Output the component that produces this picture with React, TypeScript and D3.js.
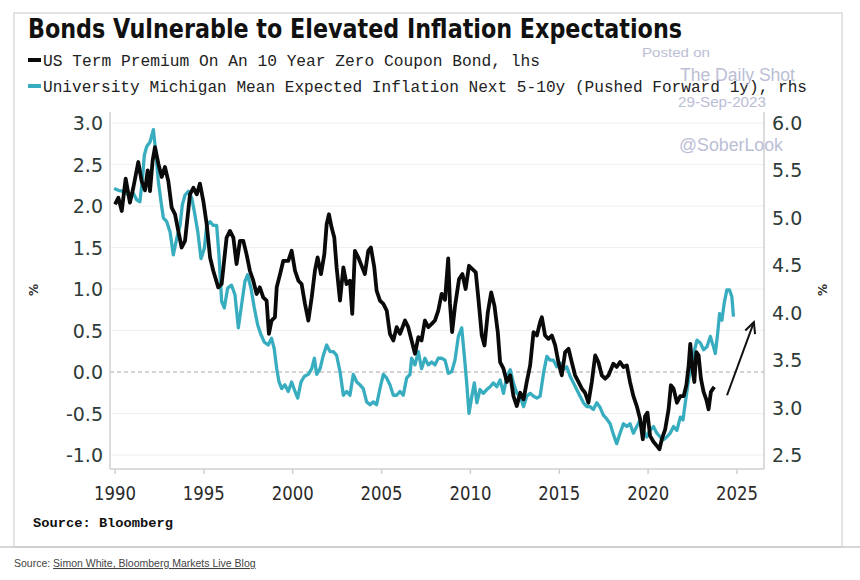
import React from "react";
import * as d3 from "d3";

const termDates = [1990.0,1990.19,1990.38,1990.6,1990.84,1991.03,1991.31,1991.5,1991.69,1991.84,1991.97,1992.12,1992.25,1992.44,1992.63,1992.81,1993.0,1993.19,1993.38,1993.56,1993.75,1993.94,1994.22,1994.41,1994.6,1994.78,1994.97,1995.16,1995.35,1995.53,1995.81,1996.0,1996.28,1996.47,1996.66,1996.84,1997.03,1997.22,1997.4,1997.59,1997.78,1997.97,1998.15,1998.34,1998.53,1998.66,1998.81,1999.0,1999.1,1999.29,1999.47,1999.75,1999.94,2000.13,2000.32,2000.5,2000.69,2000.88,2001.07,2001.25,2001.4,2001.59,2001.78,2001.91,2002.04,2002.19,2002.34,2002.47,2002.66,2002.85,2003.03,2003.22,2003.35,2003.5,2003.69,2003.91,2004.06,2004.25,2004.4,2004.59,2004.72,2004.91,2005.1,2005.29,2005.47,2005.66,2005.85,2006.04,2006.32,2006.5,2006.69,2006.88,2007.07,2007.25,2007.44,2007.63,2007.82,2008.0,2008.19,2008.38,2008.57,2008.75,2008.85,2008.97,2009.13,2009.36,2009.55,2009.73,2009.92,2010.11,2010.3,2010.45,2010.64,2010.79,2010.98,2011.17,2011.35,2011.54,2011.67,2011.86,2012.05,2012.24,2012.42,2012.61,2012.8,2012.99,2013.17,2013.36,2013.55,2013.74,2013.92,2014.02,2014.2,2014.39,2014.58,2014.77,2014.95,2015.14,2015.33,2015.52,2015.7,2015.89,2016.08,2016.27,2016.45,2016.64,2016.83,2017.02,2017.2,2017.39,2017.58,2017.77,2018.04,2018.23,2018.42,2018.61,2018.8,2018.98,2019.17,2019.36,2019.55,2019.7,2019.83,2019.96,2020.11,2020.3,2020.49,2020.64,2020.77,2020.96,2021.15,2021.28,2021.43,2021.62,2021.81,2022.0,2022.15,2022.28,2022.37,2022.49,2022.6,2022.71,2022.84,2022.97,2023.12,2023.27,2023.4,2023.53,2023.72];
const termValues = [2.02,2.10,1.94,2.33,2.04,2.22,2.53,2.30,2.19,2.43,2.18,2.55,2.71,2.51,2.35,2.47,2.30,1.98,1.90,1.70,1.50,1.58,2.14,2.22,2.14,2.27,2.06,1.78,1.38,1.22,1.02,1.06,1.62,1.70,1.62,1.30,1.58,1.58,1.42,1.22,1.10,0.94,1.02,0.90,0.86,0.46,0.62,0.66,1.02,1.18,1.34,1.34,1.46,1.22,1.10,1.06,0.82,0.62,0.90,1.22,1.38,1.18,1.42,1.78,1.90,1.74,1.62,1.26,0.86,1.26,1.06,1.10,0.70,1.46,1.38,1.26,1.18,1.46,1.50,1.26,0.98,0.86,0.82,0.74,0.46,0.38,0.54,0.46,0.62,0.54,0.38,0.22,0.42,0.38,0.62,0.54,0.58,0.62,0.74,0.94,0.87,1.37,0.82,0.48,0.79,1.12,1.18,1.00,1.28,1.24,1.20,0.88,0.44,0.32,0.72,0.96,0.80,0.48,0.12,0.04,-0.12,-0.04,-0.29,-0.41,-0.25,-0.33,-0.12,0.08,0.48,0.44,0.60,0.66,0.44,0.40,0.44,0.32,0.12,-0.04,0.24,0.28,0.12,-0.04,-0.12,-0.20,-0.25,-0.37,-0.12,0.20,0.12,-0.04,-0.08,-0.04,0.10,0.06,0.12,0.06,0.08,-0.12,-0.29,-0.41,-0.57,-0.81,-0.53,-0.49,-0.77,-0.84,-0.89,-0.93,-0.81,-0.69,-0.45,-0.16,-0.20,-0.37,-0.29,-0.29,-0.16,0.08,0.34,0.04,-0.12,0.24,0.20,-0.08,-0.24,-0.33,-0.45,-0.24,-0.18];

const inflDates = [1989.95,1990.19,1990.47,1990.75,1991.03,1991.22,1991.4,1991.53,1991.65,1991.78,1991.97,1992.16,1992.29,1992.44,1992.59,1992.72,1992.91,1993.1,1993.28,1993.47,1993.66,1993.79,1993.94,1994.13,1994.32,1994.47,1994.66,1994.84,1995.03,1995.16,1995.35,1995.53,1995.72,1995.85,1996.0,1996.15,1996.34,1996.56,1996.75,1996.94,1997.12,1997.31,1997.46,1997.65,1997.84,1998.03,1998.21,1998.4,1998.62,1998.81,1998.96,1999.1,1999.23,1999.38,1999.56,1999.75,1999.94,2000.13,2000.28,2000.47,2000.66,2000.88,2001.07,2001.22,2001.35,2001.54,2001.72,2001.91,2002.1,2002.29,2002.47,2002.66,2002.85,2003.03,2003.22,2003.41,2003.6,2003.78,2003.97,2004.16,2004.35,2004.53,2004.72,2004.91,2005.1,2005.29,2005.47,2005.66,2005.85,2006.04,2006.22,2006.41,2006.6,2006.69,2006.88,2007.07,2007.25,2007.44,2007.63,2007.82,2008.0,2008.19,2008.38,2008.57,2008.76,2008.95,2009.13,2009.32,2009.51,2009.66,2009.79,2009.92,2010.07,2010.22,2010.36,2010.54,2010.73,2010.92,2011.11,2011.29,2011.48,2011.67,2011.86,2012.05,2012.24,2012.42,2012.61,2012.8,2012.99,2013.17,2013.36,2013.55,2013.74,2013.92,2014.11,2014.3,2014.48,2014.67,2014.86,2015.05,2015.23,2015.42,2015.61,2015.8,2015.98,2016.17,2016.36,2016.55,2016.73,2016.92,2017.11,2017.3,2017.48,2017.67,2017.86,2018.04,2018.23,2018.42,2018.61,2018.8,2018.98,2019.17,2019.36,2019.55,2019.74,2019.92,2020.11,2020.3,2020.49,2020.68,2020.86,2021.05,2021.24,2021.43,2021.62,2021.81,2021.96,2022.09,2022.22,2022.37,2022.56,2022.75,2022.94,2023.12,2023.31,2023.5,2023.68,2023.78,2023.91,2024.02,2024.15,2024.28,2024.43,2024.58,2024.71,2024.8];
const inflValues = [5.31,5.29,5.28,5.24,5.26,5.19,5.17,5.38,5.66,5.75,5.80,5.93,5.70,5.38,5.17,5.00,4.96,4.85,4.61,4.78,4.92,5.14,5.24,5.28,5.21,5.06,4.85,4.57,4.68,4.92,4.96,4.92,4.92,4.61,4.12,4.05,4.26,4.29,4.19,3.84,4.08,4.33,4.40,4.26,4.05,3.87,3.77,3.69,3.66,3.73,3.62,3.41,3.27,3.20,3.24,3.17,3.27,3.17,3.10,3.27,3.33,3.35,3.41,3.52,3.35,3.41,3.55,3.66,3.59,3.59,3.55,3.38,3.13,3.17,3.13,3.35,3.27,3.24,3.20,3.06,3.03,3.06,3.03,3.20,3.35,3.31,3.24,3.13,3.13,3.17,3.13,3.31,3.35,3.52,3.45,3.59,3.41,3.52,3.45,3.48,3.45,3.52,3.52,3.50,3.36,3.38,3.50,3.75,3.84,3.54,3.26,2.94,3.11,3.26,3.05,3.19,3.15,3.19,3.22,3.26,3.22,3.29,3.15,3.33,3.40,3.26,3.15,3.12,3.01,3.12,3.15,3.12,3.10,3.12,3.36,3.54,3.50,3.50,3.43,3.47,3.40,3.43,3.33,3.26,3.19,3.12,3.05,3.01,3.01,2.98,3.05,3.00,2.92,2.88,2.83,2.72,2.62,2.73,2.83,2.80,2.83,2.73,2.80,2.87,2.76,2.69,2.76,2.80,2.73,2.69,2.66,2.69,2.73,2.80,2.76,2.90,2.87,3.05,3.22,3.40,3.57,3.71,3.68,3.61,3.64,3.75,3.64,3.57,3.78,3.99,3.92,4.10,4.24,4.24,4.17,3.96];

const leftTicks = [3.0, 2.5, 2.0, 1.5, 1.0, 0.5, 0.0, -0.5, -1.0];
const rightTicks = [6.0, 5.5, 5.0, 4.5, 4.0, 3.5, 3.0, 2.5];
const yearTicks = [1990, 1995, 2000, 2005, 2010, 2015, 2020, 2025];

const titleText = "Bonds Vulnerable to Elevated Inflation Expectations";
const legendTerm = "US Term Premium On An 10 Year Zero Coupon Bond, lhs";
const legendInfl = "University Michigan Mean Expected Inflation Next 5-10y (Pushed Forward 1y), rhs";

// arrow annotation, in (year, rhs value)
const arrowFrom = [2024.44, 3.13];
const arrowTo = [2025.95, 3.9];

const BLACK = "#0a0a0a";
const TEAL = "#38adbf";
const TICK = "#2e3b38";
const WM = "#b5b8d2";

export default function App() {
  const plotL = 110, plotR = 764, plotT = 112, plotB = 469;
  const x = d3.scaleLinear().domain([1990, 2025]).range([115, 737]);
  const yL = d3.scaleLinear().domain([-1, 3]).range([455, 123]);
  const yR = d3.scaleLinear().domain([2.5, 6]).range([455, 123]);

  const term = termDates.map((d, i) => [d, termValues[i]] as [number, number]);
  const infl = inflDates.map((d, i) => [d, inflValues[i]] as [number, number]);
  const lineL = d3.line<[number, number]>().x(d => x(d[0])).y(d => yL(d[1]));
  const lineR = d3.line<[number, number]>().x(d => x(d[0])).y(d => yR(d[1]));

  const ax1 = x(arrowFrom[0]), ay1 = yR(arrowFrom[1]);
  const ax2 = x(arrowTo[0]), ay2 = yR(arrowTo[1]);
  const ang = Math.atan2(ay2 - ay1, ax2 - ax1);
  const hl = 12, hw = 0.45;
  const h1 = [ax2 - hl * Math.cos(ang - hw), ay2 - hl * Math.sin(ang - hw)];
  const h2 = [ax2 - hl * Math.cos(ang + hw), ay2 - hl * Math.sin(ang + hw)];

  return (
    <svg width={860} height={580} style={{ position: "absolute", left: 0, top: 0 }}
      xmlns="http://www.w3.org/2000/svg">
      <rect x={0} y={0} width={860} height={580} fill="#fff" />
      <rect x={14} y={13} width={828} height={534} fill="none" stroke="#dadada" strokeWidth={1.5} />
      <line x1={0} x2={860} y1={547} y2={547} stroke="#c9c9c9" strokeWidth={1.5} />

      <text x={28} y={38} fontFamily="DejaVu Sans" fontWeight="bold" fontSize={26} fill="#111"
        textLength={654} lengthAdjust="spacingAndGlyphs">{titleText}</text>

      <line x1={28} x2={41} y1={60} y2={60} stroke={BLACK} strokeWidth={4} />
      <text x={43} y={66} fontFamily="Liberation Mono" fontSize={16.5} fill="#222"
        textLength={497} lengthAdjust="spacingAndGlyphs">{legendTerm}</text>
      <line x1={28} x2={41} y1={86} y2={86} stroke={TEAL} strokeWidth={4} />
      <text x={43} y={92} fontFamily="Liberation Mono" fontSize={16.5} fill="#222"
        textLength={764} lengthAdjust="spacingAndGlyphs">{legendInfl}</text>

      {leftTicks.map(t => (
        <line key={"g" + t} x1={plotL} x2={plotR} y1={yL(t)} y2={yL(t)}
          stroke={t === 0 ? "#a8a8a8" : "#f0f0f0"} strokeWidth={1}
          strokeDasharray={t === 0 ? "4,3" : undefined} />
      ))}

      <line x1={plotL} x2={plotL} y1={plotT} y2={plotB} stroke="#d0d0d0" strokeWidth={1.5} />
      <line x1={plotR} x2={plotR} y1={plotT} y2={plotB} stroke="#d0d0d0" strokeWidth={1.5} />
      <line x1={plotL} x2={plotR} y1={plotB} y2={plotB} stroke="#d0d0d0" strokeWidth={1.5} />
      {yearTicks.map(t => (
        <line key={"xt" + t} x1={x(t)} x2={x(t)} y1={plotB} y2={plotB + 5} stroke="#d0d0d0" strokeWidth={1.5} />
      ))}

      {leftTicks.map(t => (
        <text key={"l" + t} x={103} y={yL(t) + 7} textAnchor="end" fontFamily="DejaVu Sans"
          fontSize={19} fill={TICK}>{t.toFixed(1)}</text>
      ))}
      {rightTicks.map(t => (
        <text key={"r" + t} x={772} y={yR(t) + 7} textAnchor="start" fontFamily="DejaVu Sans"
          fontSize={19} fill={TICK}>{t.toFixed(1)}</text>
      ))}
      {yearTicks.map(t => (
        <text key={"x" + t} x={x(t) - 21} y={500} fontFamily="DejaVu Sans" fontSize={20} fill="#2a2a2a"
          textLength={42} lengthAdjust="spacingAndGlyphs">{String(t)}</text>
      ))}

      <text transform="translate(38,290) rotate(-90)" textAnchor="middle" fontFamily="DejaVu Sans"
        fontWeight="bold" fontSize={12} fill="#333">%</text>
      <text transform="translate(827,290) rotate(-90)" textAnchor="middle" fontFamily="DejaVu Sans"
        fontWeight="bold" fontSize={12} fill="#333">%</text>

      <path d={lineR(infl) || ""} fill="none" stroke={TEAL} strokeWidth={3.3} strokeLinejoin="round" />
      <path d={lineL(term) || ""} fill="none" stroke={BLACK} strokeWidth={3.8} strokeLinejoin="round" />

      <line x1={ax1} y1={ay1} x2={ax2} y2={ay2} stroke="#111" strokeWidth={2} />
      <polyline points={`${h1[0]},${h1[1]} ${ax2},${ay2} ${h2[0]},${h2[1]}`} fill="none" stroke="#111" strokeWidth={2} />

      <text x={33} y={527} fontFamily="Liberation Mono" fontWeight="bold" fontSize={13} fill="#111"
        textLength={140} lengthAdjust="spacingAndGlyphs">Source: Bloomberg</text>

      <text x={14} y={567} fontFamily="Liberation Sans Narrow, Liberation Sans" fontSize={10.5} fill="#444">
        <tspan>Source: </tspan>
        <tspan textDecoration="underline" style={{ textDecoration: "underline" }}>Simon White, Bloomberg Markets Live Blog</tspan>
      </text>

      <g fontFamily="Liberation Sans" fill={WM} opacity={0.9}>
        <text x={642} y={57} fontSize={13.5} textLength={68} lengthAdjust="spacingAndGlyphs">Posted on</text>
        <text x={680} y={81} fontSize={18} textLength={115} lengthAdjust="spacingAndGlyphs">The Daily Shot</text>
        <text x={678} y={107} fontSize={14} textLength={88} lengthAdjust="spacingAndGlyphs">29-Sep-2023</text>
        <text x={679} y={151} fontSize={17.5} textLength={104} lengthAdjust="spacingAndGlyphs">@SoberLook</text>
      </g>
    </svg>
  );
}
